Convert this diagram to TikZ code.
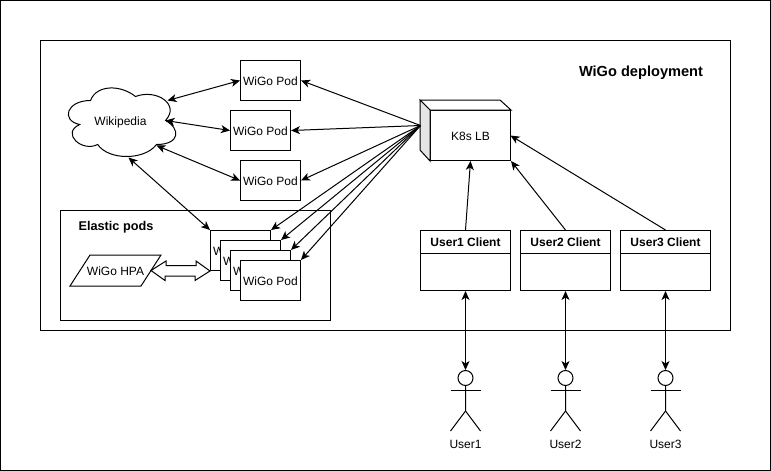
\documentclass[tikz,border=0pt]{standalone}
\usepackage{fontspec}
\setmainfont{Liberation Sans}
\usetikzlibrary{positioning,calc,arrows.meta}
\tikzset{>={Stealth[length=9pt,width=8pt,inset=2.5pt]}}
\tikzset{
  base/.style={line width=1pt,font=\fontsize{12}{14}\selectfont},
  every node/.append style={text height=9pt,text depth=0pt},
  pod/.style={draw,fill=white,minimum width=60pt,minimum height=40pt,inner sep=0pt},
  client/.style={draw,fill=white,minimum width=90pt,minimum height=60pt,inner sep=0pt},
  clienthead/.style={draw,anchor=north,minimum width=90pt,minimum height=23pt,inner sep=0pt,font=\fontsize{12}{14}\selectfont\bfseries},
  heading/.style={font=\fontsize{12.7}{14}\selectfont\bfseries,inner sep=0pt},
  link/.style={<->,line width=1pt},
}

\begin{document}
\begin{tikzpicture}[x=1pt,y=-1pt,base]
\useasboundingbox (-.5,-.5) rectangle (770.5,470.5);
\draw[fill=white] (0,0) rectangle (770,470);
\draw[fill=white] (40,40) rectangle (730,330);
\node[heading,font=\fontsize{14.6}{16}\selectfont\bfseries] (title) at (640.5,71) {WiGo deployment};

% cloud
\draw[fill=white,shift={(60,80)},x=1.2pt,y=-.8pt] (25,25)
  .. controls (5,25) and (0,50) .. (16,55)
  .. controls (0,66) and (18,90) .. (31,80)
  .. controls (40,100) and (70,100) .. (80,80)
  .. controls (100,80) and (100,60) .. (87.5,50)
  .. controls (100,30) and (80,10) .. (62.5,20)
  .. controls (50,5) and (30,5) .. (25,25) -- cycle;
\node (wiki) at (120,120) {Wikipedia};
\coordinate (wiki1) at (167,100);
\coordinate (wiki2) at (165,120);
\coordinate (wiki3) at (156,145);
\coordinate (wiki4) at (128,157);

% pods
\node[pod] (pod1) at (270,80) {WiGo Pod};
\node[pod] (pod2) at (260,130) {WiGo Pod};
\node[pod] (pod3) at (270,180) {WiGo Pod};

% elastic pods
\draw (60,210) rectangle (330,320);
\node[heading] (elastic) at (115.5,225) {Elastic pods};
\foreach \i/\x/\y in {1/240/250,2/250/260,3/260/270,4/270/280}
  \node[pod] (stack\i) at (\x,\y) {WiGo Pod};
\node[minimum width=70pt,minimum height=30pt,inner sep=0pt] (hpa) at (115,270) {WiGo HPA};
\draw ($(hpa.south west)+(-10,0)$) -- ($(hpa.north west)+(10,0)$) -- ($(hpa.north east)+(10,0)$)
  -- ($(hpa.south east)+(-10,0)$) -- cycle;
\draw[fill=white,line join=miter] (hpa.east) -- ++(15,-9.5) -- ++(0,4.5) -- ++(30,0) -- ++(0,-4.5)
  -- (stack1.south west) -- ++(-15,9.5) -- ++(0,-4.5) -- ++(-30,0) -- ++(0,4.5) -- cycle;

% load balancer
\node[draw,fill=white,minimum width=80pt,minimum height=50pt,inner sep=0pt] (lb) at (470,135) {K8s LB};
\draw[fill=white] (lb.north west) -- ++(-10,-10) -- ++(80,0) -- (lb.north east) -- cycle;
\draw[fill=black!10] (lb.north west) -- ++(-10,-10) -- ++(0,50) -- (lb.south west) -- cycle;
\coordinate (lbleft) at (420,125);
\coordinate (lbright) at (510,135);

\foreach \a in {pod1.east,pod2.east,pod3.east,stack1.north east,stack2.north east,stack3.north east,stack4.north east}
  \draw[->] (lbleft) -- (\a);
\draw[link] (wiki1) -- (pod1.west);
\draw[link] (wiki2) -- (pod2.west);
\draw[link] (wiki3) -- (pod3.west);
\draw[link] (wiki4) -- (stack1.north west);

% clients and users
\foreach \i/\x in {1/465,2/565,3/665} {
  \node[client] (client\i) at (\x,260) {};
  \node[clienthead] (head\i) at (client\i.north) {User\i{} Client};
  \node[draw,circle,minimum size=15pt,inner sep=0pt] (user\i) at (\x,377.5) {};
  \draw (user\i.south) -- ++(0,25) coordinate (hip\i) -- ++(-15,20);
  \draw (hip\i) -- ++(15,20);
  \draw (\x-15,390) -- (\x+15,390);
  \node (label\i) at (\x,443.5) {User\i};
  \draw[link] (client\i.south) -- (user\i.north);
}
\draw[->] (head1.north) -- (lb.south);
\draw[->] (head2.north) -- (lb.south east);
\draw[->] (head3.north) -- (lbright);
\end{tikzpicture}
\end{document}
